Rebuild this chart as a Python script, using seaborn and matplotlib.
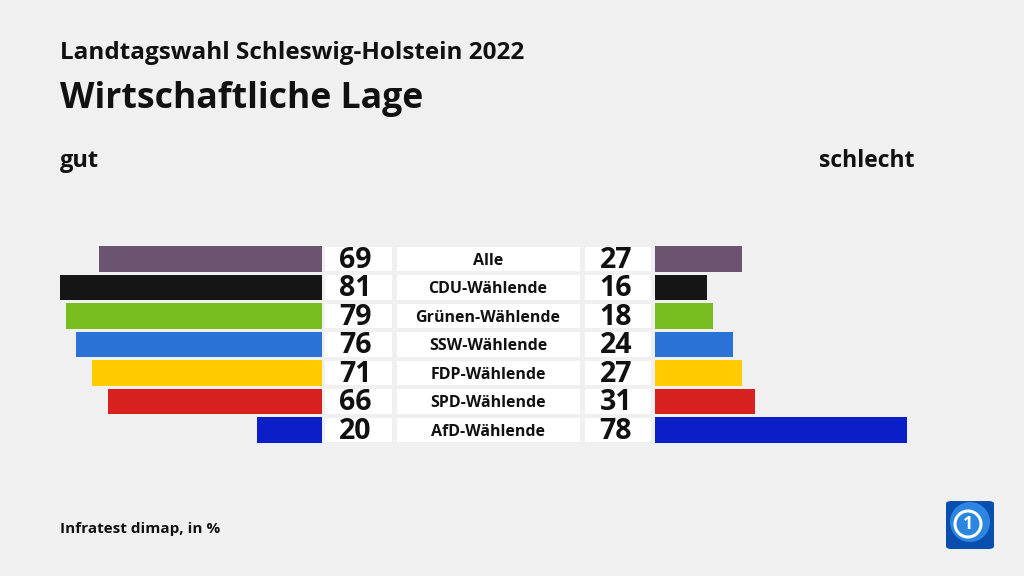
import matplotlib
matplotlib.use("Agg")
import matplotlib.pyplot as plt
from matplotlib.patches import FancyBboxPatch, Ellipse
import seaborn as sns
import pandas as pd

groups = ["Alle", "CDU-Wählende", "Grünen-Wählende", "SSW-Wählende",
          "FDP-Wählende", "SPD-Wählende", "AfD-Wählende"]
gut = [69, 81, 79, 76, 71, 66, 20]
schlecht = [27, 16, 18, 24, 27, 31, 78]
colors = ["#6a5470", "#151515", "#78be20", "#2a72d5", "#ffcc00", "#d7211f", "#0a1fc8"]

title = "Wirtschaftliche Lage"
subtitle = "Landtagswahl Schleswig-Holstein 2022"
left_head = "gut"
right_head = "schlecht"
source = "Infratest dimap, in %"

df = pd.DataFrame({"group": groups, "gut": gut, "schlecht": schlecht})
pal = dict(zip(groups, colors))

sns.set_theme(style="white")
plt.rcParams["font.family"] = ["Open Sans", "DejaVu Sans"]
BG = "#f0f0f0"

W, H = 1024, 576
fig = plt.figure(figsize=(W / 100, H / 100), dpi=100, facecolor=BG)

scale = 3.235  # px per percent
top_px, bot_px = 244.75, 444.25
yb = 1 - bot_px / H
yh = (bot_px - top_px) / H

# left axes (gut), bars grow leftwards from x=322
axL = fig.add_axes([0, yb, 322 / W, yh])
sns.barplot(data=df, y="group", x="gut", hue="group", palette=pal, orient="h",
            width=0.88, legend=False, ax=axL, saturation=1, linewidth=0)
axL.set_xlim(322 / scale, 0)

# right axes (schlecht), bars grow rightwards from x=655
axR = fig.add_axes([655 / W, yb, (W - 655) / W, yh])
sns.barplot(data=df, y="group", x="schlecht", hue="group", palette=pal, orient="h",
            width=0.88, legend=False, ax=axR, saturation=1, linewidth=0)
axR.set_xlim(0, (W - 655) / scale)

# middle axes: white boxes with numbers and labels
axM = fig.add_axes([322 / W, yb, (655 - 322) / W, yh])
axM.set_xlim(322, 655)
ypos = list(range(len(groups)))
for (l, r) in [(325, 392), (397, 580), (585, 651)]:
    axM.barh(ypos, width=r - l, left=l, height=0.86, color="white", linewidth=0)
for i, g in enumerate(groups):
    axM.text(355, i + 0.04, f"{gut[i]}", ha="center", va="center", fontsize=20.5,
             fontweight="bold", color="#111111")
    axM.text(616, i + 0.04, f"{schlecht[i]}", ha="center", va="center", fontsize=20.5,
             fontweight="bold", color="#111111")
    axM.text(488, i + 0.06, g, ha="center", va="center", fontsize=11.5,
             fontweight="bold", color="#111111")

for ax in (axL, axR, axM):
    ax.set_ylim(len(groups) - 0.5, -0.5)
    ax.set_facecolor("none")
    ax.axis("off")

fig.text(60 / W, 1 - 53 / H, subtitle, fontsize=17.5, fontweight="bold",
         va="center", ha="left", color="#111111")
fig.text(60 / W, 1 - 99 / H, title, fontsize=25.7, fontweight="bold",
         va="center", ha="left", color="#111111")
fig.text(60 / W, 1 - 161 / H, left_head, fontsize=17, fontweight="bold",
         va="center", ha="left", color="#111111")
fig.text(914 / W, 1 - 161 / H, right_head, fontsize=16.5, fontweight="bold",
         va="center", ha="right", color="#111111")
fig.text(60 / W, 1 - 529 / H, source, fontsize=11, fontweight="bold",
         va="center", ha="left", color="#111111")

# logo
logo = FancyBboxPatch((946 / W, 1 - 549 / H), 48 / W, 48 / H,
                      boxstyle="round,pad=0,rounding_size=0.005",
                      transform=fig.transFigure, facecolor="#0a4fae",
                      edgecolor="none")
fig.patches.append(logo)
glow = Ellipse((970 / W, 1 - 522 / H), 40 / W, 40 / H, transform=fig.transFigure,
               facecolor="#2a86e0", edgecolor="none")
fig.patches.append(glow)
ring = Ellipse((968 / W, 1 - 524 / H), 26 / W, 26 / H, transform=fig.transFigure,
               facecolor="none", edgecolor="white", linewidth=2.2)
fig.patches.append(ring)
fig.text(968 / W, 1 - 524 / H, "1", fontsize=13, fontweight="bold",
         color="white", ha="center", va="center")

fig.savefig("out.png", dpi=100, facecolor=BG)
